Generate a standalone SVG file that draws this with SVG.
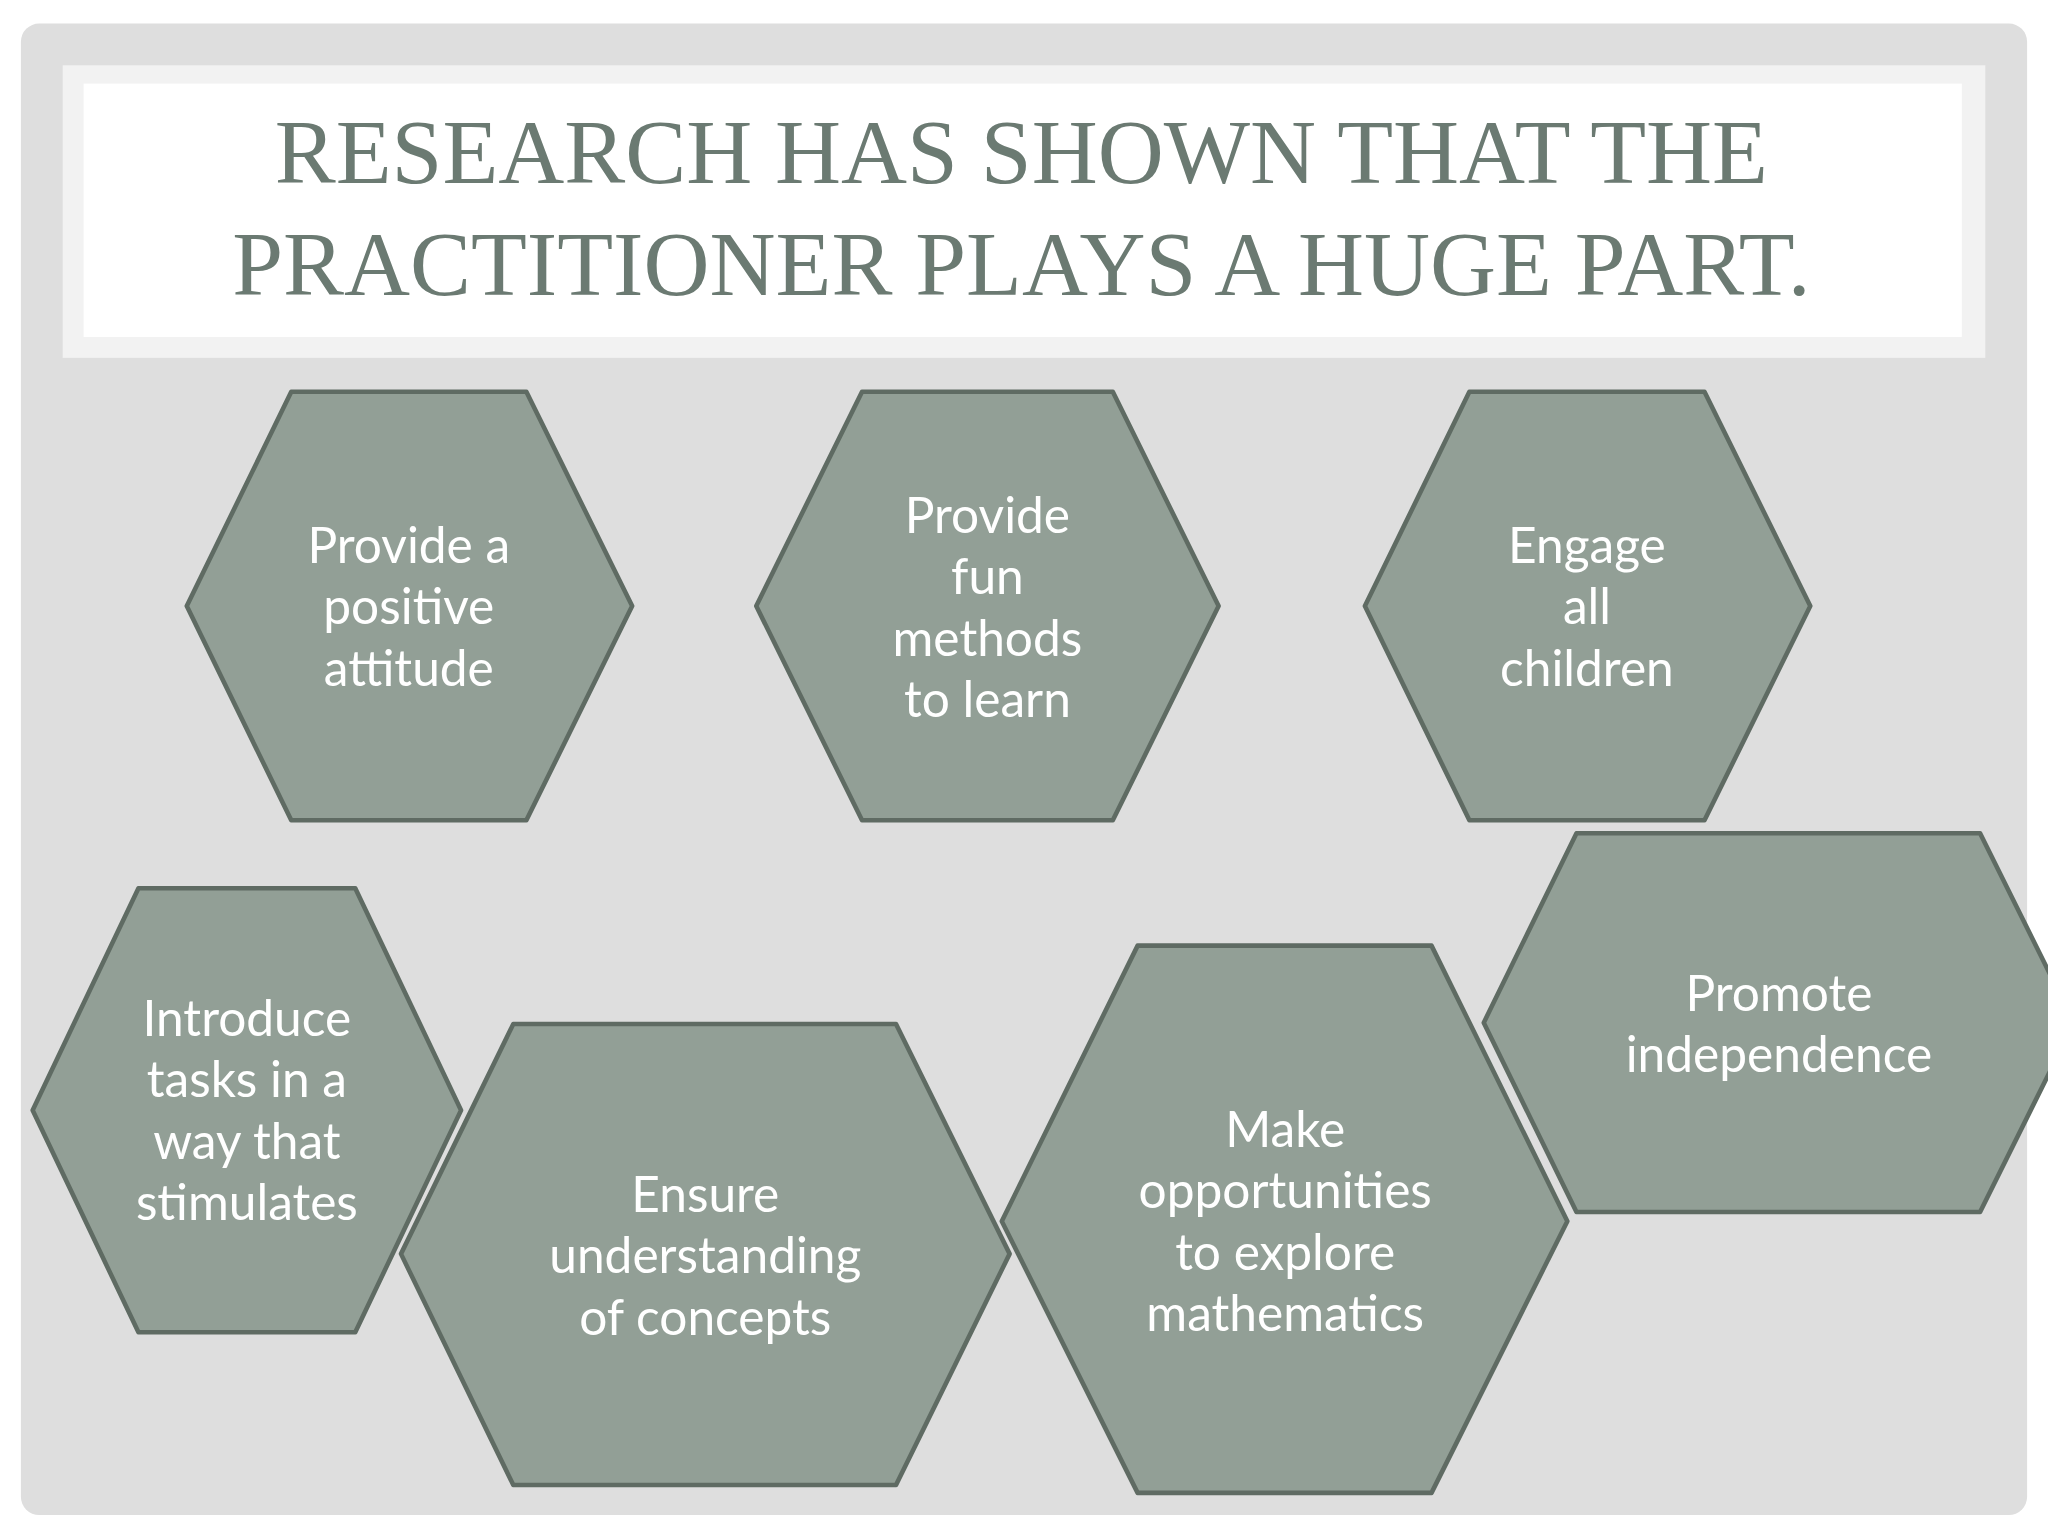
<svg xmlns="http://www.w3.org/2000/svg" width="2048" height="1536" viewBox="0 0 2048 1536">
<style>
.hex{fill:#929f96;stroke:#5f6b63;stroke-width:3.5;stroke-linejoin:round}
.t{fill:#ffffff;font-family:"Lato","Noto Sans",sans-serif;font-size:38px;text-anchor:middle}
.title{fill:#6b7a72;font-family:"Liberation Serif",serif;font-size:70px;text-anchor:middle}
</style>
<rect width="2048" height="1536" fill="#ffffff"/>
<g transform="scale(1.30612)">
<rect x="16" y="18" width="1536" height="1142" rx="14" fill="#dedede"/>
<rect x="48" y="50" width="1472" height="224" fill="#f2f2f2"/>
<rect x="64" y="64" width="1438" height="194" fill="#ffffff"/>
<text class="title" x="782" y="140">RESEARCH HAS SHOWN THAT THE</text>
<text class="title" x="782" y="226">PRACTITIONER PLAYS  A HUGE PART.</text>
<g id="n1"><polygon class="hex" points="143,464 223,300 403,300 484,464 403,628 223,628"/>
<text class="t" x="313" y="431">Provide a</text><text class="t" x="313" y="478">positive</text><text class="t" x="313" y="525">attitude</text></g>
<g id="n2"><polygon class="hex" points="579,464 660,300 852,300 933,464 852,628 660,628"/>
<text class="t" x="756" y="408">Provide</text><text class="t" x="756" y="455">fun</text><text class="t" x="756" y="502">methods</text><text class="t" x="756" y="549">to learn</text></g>
<g id="n3"><polygon class="hex" points="1045,464 1125,300 1305,300 1386,464 1305,628 1125,628"/>
<text class="t" x="1215" y="431">Engage</text><text class="t" x="1215" y="478">all</text><text class="t" x="1215" y="525">children</text></g>
<g id="n4"><polygon class="hex" points="25,850 106,680 272,680 353,850 272,1020 106,1020"/>
<text class="t" x="189" y="793">Introduce</text><text class="t" x="189" y="840">tasks in a</text><text class="t" x="189" y="887">way that</text><text class="t" x="189" y="934">stimulates</text></g>
<g id="n5"><polygon class="hex" points="307,960 393,784 686,784 773,960 686,1137 393,1137"/>
<text class="t" x="540" y="928">Ensure</text><text class="t" x="540" y="975">understanding</text><text class="t" x="540" y="1022">of concepts</text></g>
<g id="n6"><polygon class="hex" points="767,935 871,724 1096,724 1200,935 1096,1143 871,1143"/>
<text class="t" x="984" y="878">Make</text><text class="t" x="984" y="925">opportunities</text><text class="t" x="984" y="972">to explore</text><text class="t" x="984" y="1019">mathematics</text></g>
<g id="n7"><polygon class="hex" points="1136,783 1207,638 1516,638 1588,783 1516,928 1207,928"/>
<text class="t" x="1362" y="774">Promote</text><text class="t" x="1362" y="821">independence</text></g>
<g id="connectors"/>
</g>
</svg>
